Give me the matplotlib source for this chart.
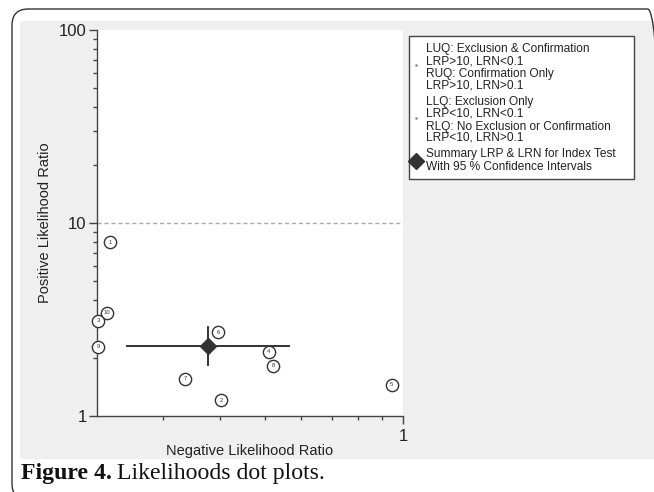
import matplotlib
matplotlib.use("Agg")
import matplotlib.pyplot as plt
from matplotlib.patches import Rectangle, FancyBboxPatch
from matplotlib.ticker import LogLocator, NullFormatter, FixedLocator, FixedFormatter

plt.rcParams['font.family'] = ['Liberation Sans', 'DejaVu Sans']

# Study-level data (negative LR, positive LR) with study labels
study_ids = ['1', '10', '3', '9', '6', '4', '8', '7', '2', '5']
lrn = [0.231, 0.227, 0.217, 0.217, 0.396, 0.511, 0.522, 0.336, 0.402, 0.946]
lrp = [7.97, 3.42, 3.11, 2.28, 2.72, 2.15, 1.82, 1.555, 1.21, 1.45]

# Summary estimate and 95% CI
summary_lrn = 0.377
summary_lrn_ci = [0.251, 0.565]
summary_lrp = 2.31
summary_lrp_ci = [1.84, 2.89]

legend_lines = [
    "LUQ: Exclusion & Confirmation", "LRP>10, LRN<0.1",
    "RUQ: Confirmation Only", "LRP>10, LRN>0.1",
    "LLQ: Exclusion Only", "LRP<10, LRN<0.1",
    "RLQ: No Exclusion or Confirmation", "LRP<10, LRN>0.1",
    "Summary LRP & LRN for Index Test", "With 95 % Confidence Intervals",
]

W, H = 654, 492
fig = plt.figure(figsize=(W / 100, H / 100), dpi=100)
fig.patch.set_facecolor('white')

def fx(px):
    return px / W

def fy(py):
    return 1 - py / H

# gray panel
fig.patches.append(Rectangle((fx(20), fy(459)), fx(654) - fx(20), fy(21) - fy(459),
                             transform=fig.transFigure, facecolor='#efefef',
                             edgecolor='none', zorder=-2))
# rounded outer border
fig.patches.append(FancyBboxPatch((fx(12), fy(500)), fx(664) - fx(12), fy(9) - fy(500),
                                  boxstyle="round,pad=0,rounding_size=0.025",
                                  transform=fig.transFigure, facecolor='none',
                                  edgecolor='#333333', linewidth=1.0, zorder=-1,
                                  mutation_aspect=W / H))

ax = fig.add_axes([fx(97), fy(416), fx(403) - fx(97), fy(30) - fy(416)])
ax.set_zorder(1)
ax.set_facecolor('white')
ax.set_xscale('log')
ax.set_yscale('log')
ax.set_xlim(0.216, 1)
ax.set_ylim(1, 100)

for s in ['top', 'right']:
    ax.spines[s].set_visible(False)
for s in ['left', 'bottom']:
    ax.spines[s].set_color('#444444')
    ax.spines[s].set_linewidth(1.0)

ax.yaxis.set_major_locator(FixedLocator([1, 10, 100]))
ax.yaxis.set_major_formatter(FixedFormatter(['1', '10', '100']))
ax.yaxis.set_minor_locator(LogLocator(base=10, subs=range(2, 10)))
ax.yaxis.set_minor_formatter(NullFormatter())
ax.xaxis.set_major_locator(FixedLocator([1]))
ax.xaxis.set_major_formatter(FixedFormatter(['1']))
ax.xaxis.set_minor_locator(LogLocator(base=10, subs=range(2, 10)))
ax.xaxis.set_minor_formatter(NullFormatter())
ax.tick_params(which='major', length=5.5, width=1, color='#444444', labelsize=12,
               labelcolor='#222222', pad=2)
ax.tick_params(axis='x', which='major', pad=4)
ax.tick_params(which='minor', length=3, width=1, color='#444444')

ax.axhline(10, color='#aaaaaa', linestyle=(0, (3, 2)), linewidth=1.0, zorder=1)

# summary CI
ax.plot(summary_lrn_ci, [summary_lrp, summary_lrp], color='#222222', lw=1.3, zorder=3)
ax.plot([summary_lrn, summary_lrn], summary_lrp_ci, color='#222222', lw=1.3, zorder=3)
ax.plot([summary_lrn], [summary_lrp], marker='D', markersize=8.5, color='#333333',
        zorder=4, clip_on=False)

# study points
ax.scatter(lrn, lrp, s=78, facecolor='white', edgecolor='#333333', linewidth=1.0,
           zorder=5, clip_on=False)
for sid, x, y in zip(study_ids, lrn, lrp):
    ax.text(x, y, sid, fontsize=4.2, ha='center', va='center', color='#333333', zorder=6,
            clip_on=False)

ax.set_xlabel('Negative Likelihood Ratio', fontsize=10.5, color='#222222')
ax.xaxis.label.set_va('center')
ax.xaxis.set_label_coords(0.5, -(451 - 416) / 386)
ax.set_ylabel('Positive Likelihood Ratio', fontsize=10.5, color='#222222')
ax.yaxis.label.set_va('center')
ax.yaxis.set_label_coords(-(97 - 45) / 306, 0.5)

# legend box
fig.patches.append(Rectangle((fx(409), fy(179)), fx(634) - fx(409), fy(36) - fy(179),
                             transform=fig.transFigure, facecolor='white',
                             edgecolor='#444444', linewidth=1.0, zorder=2))
line_y = [49, 62, 74, 86, 102, 114, 127, 138, 154, 167]
for txt, py in zip(legend_lines, line_y):
    fig.text(fx(426), fy(py), txt, fontsize=8.6, ha='left', va='center', color='#222222',
             zorder=3)
fig.lines.append(plt.Line2D([fx(416)], [fy(65)], marker='.', markersize=2, color='#999999',
                            transform=fig.transFigure, zorder=3))
fig.lines.append(plt.Line2D([fx(416)], [fy(118)], marker='.', markersize=2, color='#999999',
                            transform=fig.transFigure, zorder=3))
fig.lines.append(plt.Line2D([fx(416)], [fy(161)], marker='D', markersize=8.5, color='#333333',
                            transform=fig.transFigure, zorder=3))

# caption
t1 = fig.text(fx(21), fy(479), 'Figure 4.', fontsize=17.1, fontweight='bold',
              family='Liberation Serif', ha='left', va='baseline', color='#111111')
fig.canvas.draw()
bb = t1.get_window_extent()
fig.text(bb.x1 / W + 5 / W, fy(479), 'Likelihoods dot plots.', fontsize=17.1,
         family='Liberation Serif', ha='left', va='baseline', color='#111111')

fig.savefig('out.png', dpi=100)
